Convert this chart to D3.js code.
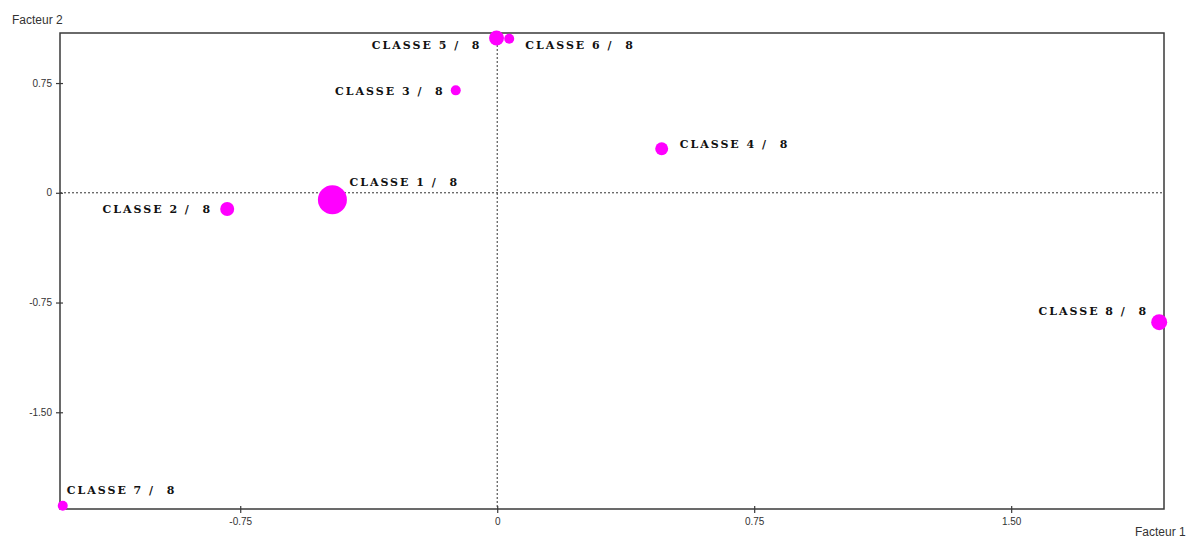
<!DOCTYPE html>
<html>
<head>
<meta charset="utf-8">
<script src="https://cdn.jsdelivr.net/npm/d3@7"></script>
<style>
html,body{margin:0;padding:0;background:#fff;}
svg{display:block;}
</style>
</head>
<body>
<svg id="chart" width="1189" height="538"></svg>
<script>
// ---- data ----
const classes = ["CLASSE 1 /  8","CLASSE 2 /  8","CLASSE 3 /  8","CLASSE 4 /  8","CLASSE 5 /  8","CLASSE 6 /  8","CLASSE 7 /  8","CLASSE 8 /  8"];
const factor1 = [-0.481, -0.788, -0.121, 0.480, -0.002, 0.035, -1.268, 1.932];
const factor2 = [-0.048, -0.111, 0.700, 0.301, 1.058, 1.053, -2.139, -0.884];
const weights = [210, 49, 25, 42, 56, 25, 25, 64];
const xTicks = [-0.75, 0, 0.75, 1.50];
const yTicks = [0.75, 0, -0.75, -1.50];
const xTickLabels = ["-0.75", "0", "0.75", "1.50"];
const yTickLabels = ["0.75", "0", "-0.75", "-1.50"];

// ---- layout (label placement relative to point) ----
const labelLayout = [
  {anchor:"start", dx:17, dy:-14},
  {anchor:"end",   dx:-15, dy:4},
  {anchor:"end",   dx:-11, dy:5},
  {anchor:"start", dx:18, dy:-1},
  {anchor:"end",   dx:-15, dy:11},
  {anchor:"start", dx:16, dy:10},
  {anchor:"start", dx:4,  dy:-12},
  {anchor:"end",   dx:-11, dy:-7}
];

const svg = d3.select("#chart");
const L = 60, R = 1164, T = 33, B = 509;
const x = d3.scaleLinear().domain([-1.276, 1.946]).range([L, R]);
const y = d3.scaleLinear().domain([-2.161, 1.092]).range([B, T]);
const r = d3.scaleSqrt().domain([0, 210]).range([0, 14.5]);

const axisColor = "#3a3a3a";

// dashed zero lines
svg.append("line").attr("x1", L).attr("x2", R).attr("y1", y(0)).attr("y2", y(0))
  .attr("stroke", "#333").attr("stroke-width", 1).attr("stroke-dasharray", "2,2");
svg.append("line").attr("x1", x(0)).attr("x2", x(0)).attr("y1", T).attr("y2", B)
  .attr("stroke", "#333").attr("stroke-width", 1).attr("stroke-dasharray", "2,2");

// frame
svg.append("rect").attr("x", L).attr("y", T).attr("width", R - L).attr("height", B - T)
  .attr("fill", "none").attr("stroke", axisColor).attr("stroke-width", 1.5);

// axes
const xAxis = d3.axisBottom(x).tickValues(xTicks).tickFormat((d, i) => xTickLabels[i]).tickSizeInner(4).tickSizeOuter(0);
const gx = svg.append("g").attr("transform", `translate(0,${B})`).call(xAxis);
gx.select(".domain").remove();
gx.selectAll(".tick line").attr("y1", -3).attr("y2", 4).attr("stroke", axisColor).attr("stroke-width", 1.2);
gx.selectAll(".tick text").attr("y", 9).attr("font-family", "Liberation Sans, Arial, sans-serif").attr("font-size", 10).attr("fill", "#333");

const yAxis = d3.axisLeft(y).tickValues(yTicks).tickFormat((d, i) => yTickLabels[i]).tickSizeInner(4).tickSizeOuter(0);
const gy = svg.append("g").attr("transform", `translate(${L},0)`).call(yAxis);
gy.select(".domain").remove();
gy.selectAll(".tick line").attr("x1", -4).attr("x2", 3).attr("stroke", axisColor).attr("stroke-width", 1.2);
gy.selectAll(".tick text").attr("x", -8).attr("font-family", "Liberation Sans, Arial, sans-serif").attr("font-size", 10).attr("fill", "#333");

// axis titles
svg.append("text").attr("x", 12).attr("y", 24).text("Facteur 2")
  .attr("font-family", "Liberation Sans, Arial, sans-serif").attr("font-size", 12).attr("fill", "#333");
svg.append("text").attr("x", 1135).attr("y", 536).text("Facteur 1")
  .attr("font-family", "Liberation Sans, Arial, sans-serif").attr("font-size", 12).attr("fill", "#333");

// points
const data = classes.map((c, i) => ({name: c, f1: factor1[i], f2: factor2[i], w: weights[i], lay: labelLayout[i]}));
svg.append("g").selectAll("circle").data(data).join("circle")
  .attr("cx", d => x(d.f1)).attr("cy", d => y(d.f2)).attr("r", d => r(d.w))
  .attr("fill", "#ff00ff");

// labels
svg.append("g").selectAll("text").data(data).join("text")
  .attr("x", d => x(d.f1) + d.lay.dx).attr("y", d => y(d.f2) + d.lay.dy)
  .attr("text-anchor", d => d.lay.anchor)
  .style("white-space", "pre")
  .attr("font-family", "DejaVu Serif, serif").attr("font-weight", "bold")
  .attr("font-size", 11).attr("letter-spacing", "2px").attr("fill", "#111")
  .text(d => d.name);
</script>
</body>
</html>
